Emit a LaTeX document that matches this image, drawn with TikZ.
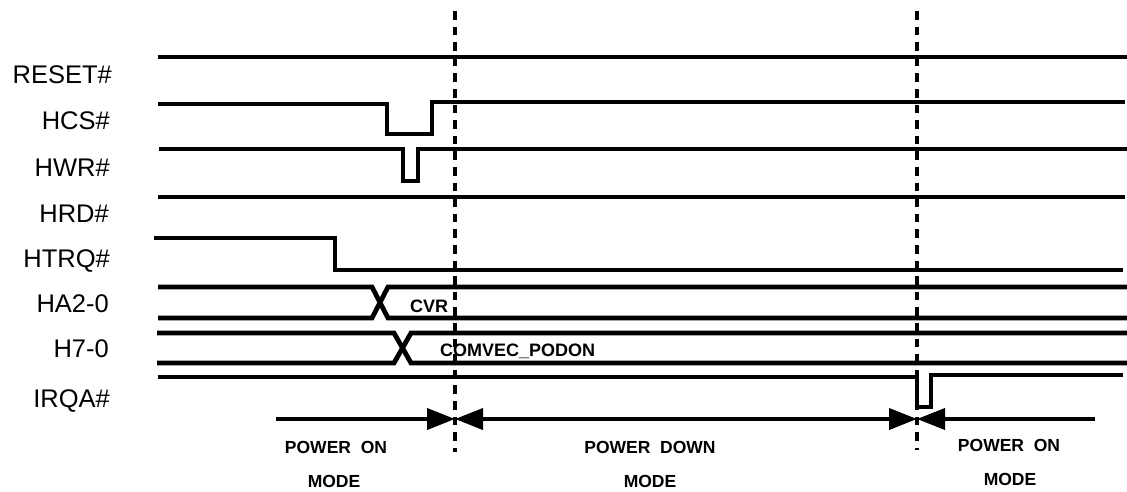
\documentclass[tikz,border=0pt]{standalone}
\usepackage{fontspec}
\setmainfont{Liberation Sans}
\usetikzlibrary{arrows.meta}

\begin{document}
\begin{tikzpicture}[x=1pt, y=-1pt, >={Triangle[length=28pt,width=21pt]},
    wave/.style={line width=4.8pt},
    cut/.style={line width=4.8pt, dash pattern=on 8.5pt off 7.1pt},
    span/.style={line width=3.8pt},
    siglabel/.style={anchor=base east, inner sep=0pt, font=\fontsize{25.5}{30}\selectfont},
    buslabel/.style={anchor=base west, inner sep=0pt, font=\fontsize{18}{22}\selectfont\bfseries},
    modelabel/.style={anchor=base, inner sep=0pt, font=\fontsize{17.5}{21}\selectfont\bfseries}]
  \useasboundingbox (0,0) rectangle (1127,491);

  \node[siglabel] (reset) at (112,83) {RESET\#};
  \node[siglabel] (hcs) at (110,129) {HCS\#};
  \node[siglabel] (hwr) at (110,176) {HWR\#};
  \node[siglabel] (hrd) at (109,222) {HRD\#};
  \node[siglabel] (htrq) at (110,267) {HTRQ\#};
  \node[siglabel] (ha) at (109,312) {HA2-0};
  \node[siglabel] (hd) at (109,357) {H7-0};
  \node[siglabel] (irqa) at (110,407) {IRQA\#};

  \draw[wave] (158,57) -- (1127,57);
  \draw[wave] (158,104) -- (387,104) -- (387,134) -- (432,134) -- (432,102) -- (1125,102);
  \draw[wave] (159,149) -- (403,149) -- (403,181) -- (418,181) -- (418,149) -- (1127,149);
  \draw[wave] (158,197) -- (1125,197);
  \draw[wave] (154,238) -- (335,238) -- (335,270) -- (1123,270);
  \draw[wave] (158,287) -- (372,287) -- (388,318) -- (1127,318);
  \draw[wave] (158,318) -- (372,318) -- (388,287) -- (1127,287);
  \draw[wave] (157,333) -- (394,333) -- (411,363) -- (1127,363);
  \draw[wave] (157,363) -- (394,363) -- (411,333) -- (1127,333);
  \draw[wave] (158,377) -- (917,377) -- (917,407) -- (931,407) -- (931,375) -- (1123,375);

  \node[buslabel] (cvr) at (410,312) {CVR};
  \node[buslabel] (comvec) at (440,356) {COMVEC\_PODON};

  \coordinate (t1top) at (455,11);
  \coordinate (t1bot) at (455,452);
  \coordinate (t2top) at (917,11);
  \coordinate (t2bot) at (917,450);
  \draw[cut] (t1top) -- (t1bot);
  \draw[cut] (t2top) -- (t2bot);

  \coordinate (a0) at (276,419);
  \coordinate (t1) at (455,419);
  \coordinate (t2) at (917,419);
  \coordinate (a3) at (1095,419);
  \draw[span, ->] (a0) -- (t1);
  \draw[span, <->] (t1) -- (t2);
  \draw[span, <-] (t2) -- (a3);

  \node[modelabel] (on1) at (336,453) {POWER~~ON};
  \node[modelabel] (on1b) at (334,487) {MODE};
  \node[modelabel] (down) at (650,453) {POWER~~DOWN};
  \node[modelabel] (downb) at (650,487) {MODE};
  \node[modelabel] (on2) at (1009,451) {POWER~~ON};
  \node[modelabel] (on2b) at (1010,485) {MODE};
\end{tikzpicture}
\end{document}
